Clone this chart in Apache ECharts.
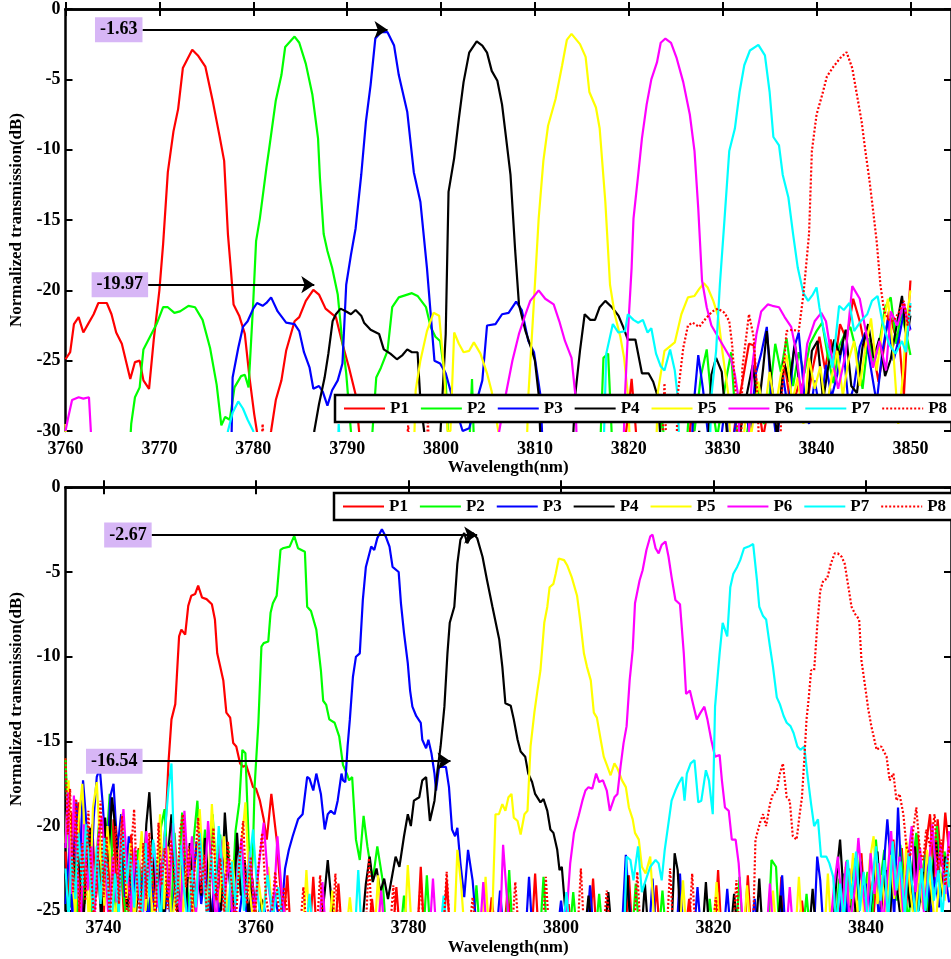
<!DOCTYPE html>
<html>
<head>
<meta charset="utf-8">
<title>Normalized transmission</title>
<script src="https://cdn.jsdelivr.net/npm/echarts@6/dist/echarts.min.js"></script>
<style>
  html, body { margin: 0; padding: 0; background: #fff; }
  #chart { width: 951px; height: 959px; }
</style>
</head>
<body>
<div id="chart"></div>
<script>
// series names, colours and tick labels
const names = ['P1', 'P2', 'P3', 'P4', 'P5', 'P6', 'P7', 'P8']
const colors = ['#ff0000', '#00ff00', '#0000ff', '#000000', '#ffff00', '#ff00ff', '#00ffff', '#ff0000']
const topXTicks = [3760, 3770, 3780, 3790, 3800, 3810, 3820, 3830, 3840, 3850]
const botXTicks = [3740, 3760, 3780, 3800, 3820, 3840]

// upper panel: [wavelength nm, transmission dB]
const topP1 = [[3760,-24.9],[3760.5,-24.4],[3760.9,-22.4],[3761.4,-21.9],[3761.9,-23.0],[3762.4,-22.4],[3763.0,-21.7],[3763.5,-20.9],[3764.4,-20.9],[3764.9,-21.7],[3765.4,-23.0],[3766.0,-23.8],[3766.9,-26.3],[3767.4,-25.1],[3767.9,-25.0],[3768.3,-26.4],[3768.9,-27.0],[3769.4,-23.5],[3770.0,-20.0],[3770.4,-16.7],[3770.9,-11.6],[3771.5,-8.7],[3772.0,-7.1],[3772.5,-4.2],[3773.5,-2.9],[3774.1,-3.3],[3774.9,-4.1],[3775.7,-6.6],[3776.4,-9.0],[3776.9,-10.8],[3777.3,-16.0],[3777.6,-18.4],[3777.9,-21.0],[3778.5,-21.8],[3779.1,-23.1],[3779.6,-26.2],[3780.1,-28.8],[3780.5,-30.5],[3781.2,-33],[3781.9,-30.0],[3782.4,-27.8],[3783.0,-26.4],[3783.5,-24.3],[3784.4,-22.2],[3784.9,-21.9],[3785.6,-20.75],[3786.4,-19.97],[3787.0,-20.3],[3787.7,-21.3],[3788.8,-21.9],[3789.5,-23.8],[3790.2,-25.5],[3790.9,-27.4],[3791.3,-30.2],[3792,-34],[3819,-34],[3819.9,-29],[3820.3,-26.3],[3820.7,-29.5],[3821.2,-34],[3826,-34],[3826.7,-28.5],[3827.2,-33],[3830.5,-34],[3831.4,-29],[3832.1,-26.5],[3832.8,-23.8],[3833.3,-23.9],[3833.7,-27.5],[3834.3,-30.5],[3835.2,-27],[3835.9,-29.5],[3836.6,-25.2],[3837.3,-28.5],[3838.2,-26.5],[3839.0,-28],[3839.6,-25.5],[3840.3,-23.3],[3840.9,-25.6],[3841.5,-23.5],[3842.0,-25.0],[3842.5,-22.4],[3843.2,-23.5],[3843.9,-20.6],[3844.6,-22.2],[3845.3,-24.5],[3845.9,-23.8],[3846.6,-26.5],[3847.2,-24.0],[3847.7,-21.5],[3848.3,-23.0],[3848.8,-23.5],[3849.3,-27.5],[3849.7,-22.5],[3850.0,-19.3]]
const topP2 = [[3766.6,-34],[3767.0,-29.5],[3767.4,-27.6],[3767.9,-26.9],[3768.3,-24.2],[3769.0,-23.3],[3769.7,-22.4],[3770.4,-21.2],[3770.9,-21.2],[3771.6,-21.6],[3772.2,-21.5],[3773.1,-21.1],[3773.8,-21.2],[3774.6,-22.1],[3775.4,-24.1],[3776.1,-26.7],[3776.6,-29.6],[3777.0,-29.0],[3777.5,-29.2],[3778.0,-26.9],[3778.7,-26.1],[3779.1,-26.0],[3779.5,-26.9],[3780.0,-20.8],[3780.3,-16.5],[3780.7,-14.9],[3781.4,-11.3],[3781.7,-9.9],[3782.4,-6.5],[3783.0,-4.7],[3783.4,-2.7],[3784.4,-1.96],[3784.9,-2.4],[3785.6,-3.9],[3786.3,-6.1],[3786.9,-9.2],[3787.1,-12.0],[3787.5,-16.0],[3787.9,-17.2],[3788.4,-18.4],[3789.0,-20.3],[3789.4,-23.1],[3789.9,-25.9],[3790.4,-30.0],[3791,-34],[3792.2,-34],[3792.7,-30.0],[3793.1,-26.2],[3793.6,-25.5],[3794.3,-24.3],[3794.8,-21.2],[3795.5,-20.5],[3796.9,-20.2],[3797.5,-20.4],[3798.4,-21.2],[3798.9,-22.6],[3799.4,-23.3],[3799.9,-23.6],[3800.5,-26.5],[3801.0,-34],[3802.9,-33],[3803.3,-26.3],[3803.6,-33],[3816.8,-34],[3817.3,-24.8],[3817.8,-24.5],[3818.2,-30.5],[3822.8,-34],[3823.5,-29],[3824.2,-33],[3825.9,-34],[3826.5,-27.5],[3827.0,-30],[3827.7,-26],[3828.3,-24.2],[3828.8,-27.8],[3829.4,-30.5],[3830.4,-26.2],[3830.9,-24.4],[3831.4,-29.5],[3832.1,-32],[3833.0,-28.6],[3833.6,-26.5],[3834.4,-29.5],[3835.0,-27.4],[3835.6,-23.8],[3836.2,-25.8],[3836.8,-23.4],[3837.5,-26.8],[3838.1,-24.4],[3838.7,-25.9],[3839.3,-23.8],[3840.0,-22.9],[3840.6,-22.3],[3841.2,-24.7],[3841.8,-26.6],[3842.4,-24.0],[3843.0,-23.1],[3843.6,-22.6],[3844.3,-24.5],[3844.9,-27.0],[3845.5,-23.4],[3846.1,-25.2],[3846.7,-23.7],[3847.3,-21.2],[3847.9,-20.5],[3848.5,-23.8],[3849.0,-21.6],[3849.5,-22.9],[3850.0,-24.6]]
const topP3 = [[3777.5,-34],[3777.7,-30],[3777.8,-26.2],[3778.4,-24.1],[3778.9,-22.6],[3779.4,-22.2],[3780.0,-21.3],[3780.4,-20.9],[3781.0,-21.1],[3781.4,-20.9],[3781.9,-20.5],[3782.6,-21.5],[3783.5,-22.3],[3784.4,-22.4],[3784.9,-22.9],[3785.4,-24.4],[3786.0,-25.5],[3786.4,-27.0],[3787.0,-26.8],[3787.4,-27.2],[3787.9,-28.2],[3788.4,-27.1],[3789.0,-26.4],[3789.5,-25.2],[3789.9,-19.6],[3790.4,-17.5],[3790.9,-15.6],[3791.5,-11.8],[3792.0,-8.0],[3792.5,-5.4],[3793.0,-2.1],[3793.6,-1.65],[3794.3,-1.65],[3795.0,-2.6],[3795.5,-4.7],[3796.4,-7.3],[3797.1,-11.6],[3797.8,-13.7],[3798.5,-18.4],[3799.3,-25.0],[3799.9,-25.2],[3800.5,-25.9],[3801.2,-27.6],[3802.3,-30.0],[3803.0,-29.8],[3804.4,-26.4],[3804.9,-22.5],[3805.8,-22.4],[3806.5,-21.7],[3807.2,-21.6],[3808.0,-20.8],[3808.6,-21.4],[3809.3,-23.6],[3809.9,-24.4],[3810.6,-27.5],[3811.0,-34],[3826.4,-34],[3827.0,-27.5],[3827.4,-24.6],[3827.9,-27.0],[3828.4,-30],[3829.2,-34],[3830.3,-28],[3830.8,-32],[3831.5,-29],[3832.3,-27.5],[3832.9,-30.5],[3833.5,-26.0],[3834.1,-24.5],[3834.7,-22.6],[3835.2,-27.8],[3835.8,-31],[3836.4,-26.0],[3837.0,-28.6],[3837.6,-24.1],[3838.1,-23.0],[3838.7,-27.4],[3839.2,-29.5],[3839.8,-26.4],[3840.4,-28.7],[3841.0,-25.3],[3841.6,-27.6],[3842.2,-26.0],[3842.8,-23.6],[3843.4,-28.1],[3844.0,-26.8],[3844.6,-24.0],[3845.2,-23.0],[3845.8,-25.6],[3846.4,-28.0],[3847.0,-24.4],[3847.6,-22.1],[3848.2,-25.0],[3848.8,-23.3],[3849.4,-21.2],[3850.0,-22.8]]
const topP4 = [[3786.3,-34],[3786.5,-30],[3787.0,-28.1],[3787.6,-26.2],[3788.0,-24.5],[3788.45,-22.2],[3788.8,-21.7],[3789.3,-21.3],[3789.9,-21.5],[3790.4,-21.7],[3790.9,-21.4],[3791.5,-21.8],[3791.8,-22.3],[3792.5,-22.8],[3793.4,-23.1],[3793.9,-24.2],[3794.6,-24.5],[3795.3,-24.9],[3795.9,-24.6],[3796.4,-24.2],[3796.9,-24.4],[3797.5,-24.4],[3797.8,-27.8],[3798.2,-30.0],[3798.8,-34],[3799.6,-34],[3799.95,-30],[3800.5,-23.1],[3800.8,-13.0],[3801.4,-10.6],[3801.9,-7.8],[3802.4,-5.2],[3803.0,-3.1],[3803.8,-2.3],[3804.4,-2.6],[3804.9,-3.1],[3805.4,-4.4],[3806.0,-5.1],[3806.5,-6.8],[3806.9,-9.0],[3807.4,-11.8],[3807.9,-17.2],[3808.3,-21.0],[3809.0,-22.9],[3809.7,-24.3],[3810.0,-25.0],[3810.4,-27.4],[3810.8,-34],[3813.8,-34],[3814.3,-27.4],[3814.8,-24.3],[3815.3,-21.7],[3815.9,-22.1],[3816.4,-22.1],[3816.9,-21.2],[3817.5,-20.75],[3818.2,-21.2],[3818.9,-21.8],[3819.4,-22.6],[3819.9,-23.5],[3820.7,-23.5],[3821.4,-25.9],[3822.1,-25.9],[3822.6,-26.5],[3823.1,-27.6],[3823.5,-32],[3826.5,-34],[3827.5,-30],[3828.2,-34],[3828.8,-26.0],[3829.3,-24.8],[3829.9,-25.8],[3830.5,-30.5],[3831.2,-34],[3832.0,-29.5],[3832.6,-27.3],[3833.2,-25.3],[3833.8,-28.5],[3834.3,-25.6],[3834.7,-22.9],[3835.2,-26.5],[3835.8,-30.5],[3836.5,-25.0],[3837.1,-26.5],[3837.7,-23.8],[3838.3,-27.6],[3838.9,-29.0],[3839.5,-24.3],[3840.1,-23.6],[3840.7,-27.8],[3841.3,-25.2],[3841.9,-23.5],[3842.5,-24.6],[3843.1,-22.8],[3843.7,-26.8],[3844.3,-27.3],[3844.9,-24.0],[3845.5,-22.4],[3846.1,-24.8],[3846.7,-23.4],[3847.3,-26.1],[3847.9,-24.9],[3848.5,-22.6],[3849.1,-20.4],[3849.6,-23.5],[3850.0,-21.8]]
const topP5 = [[3760.0,-29.5],[3760.2,-34],[3797.0,-34],[3797.3,-27.1],[3797.8,-25.0],[3798.5,-22.9],[3799.2,-21.6],[3799.8,-21.8],[3800.3,-25.5],[3800.7,-30],[3801.0,-30],[3801.4,-23.0],[3801.9,-23.8],[3802.4,-24.4],[3803.0,-24.3],[3803.5,-23.7],[3804.2,-24.5],[3804.9,-25.9],[3805.4,-27.2],[3806.1,-30],[3806.5,-34],[3809.0,-34],[3809.3,-27.5],[3809.9,-20.75],[3810.4,-14.9],[3810.9,-10.8],[3811.4,-8.3],[3812.2,-6.4],[3812.9,-4.0],[3813.4,-2.2],[3813.9,-1.77],[3814.8,-2.5],[3815.4,-3.4],[3815.8,-5.9],[3816.5,-7.0],[3816.9,-8.5],[3817.5,-13.7],[3818.0,-19.6],[3818.5,-21.7],[3819.1,-23.3],[3819.5,-24.8],[3819.9,-27.4],[3820.3,-34],[3822.8,-34],[3823.1,-27.2],[3823.8,-24.3],[3824.9,-23.7],[3825.6,-21.7],[3826.3,-20.5],[3827.0,-20.4],[3827.5,-19.9],[3828.0,-19.5],[3828.4,-19.8],[3829.0,-20.75],[3829.5,-21.8],[3830.0,-24.5],[3830.6,-27.4],[3831.0,-34],[3832.0,-32],[3832.6,-28.0],[3833.0,-30.5],[3833.8,-26.5],[3834.4,-29.0],[3835.0,-25.8],[3835.6,-28.5],[3836.2,-26.0],[3836.8,-24.6],[3837.4,-27.9],[3838.0,-26.2],[3838.6,-29.5],[3839.2,-24.8],[3839.8,-27.0],[3840.4,-25.4],[3841.0,-28.6],[3841.6,-26.2],[3842.2,-24.3],[3842.8,-27.5],[3843.4,-25.0],[3844.0,-23.6],[3844.6,-26.8],[3845.2,-24.1],[3845.8,-22.0],[3846.4,-25.7],[3847.0,-22.8],[3847.6,-20.6],[3848.2,-24.6],[3848.7,-29.5],[3849.2,-26.0],[3849.6,-22.0],[3850.0,-20.0]]
const topP6 = [[3760,-30],[3760.3,-29.0],[3760.7,-27.8],[3761.4,-27.6],[3761.9,-27.7],[3762.5,-27.6],[3762.7,-30],[3763,-34],[3805.5,-34],[3806.2,-30],[3806.9,-27.4],[3807.6,-25.0],[3808.3,-23.1],[3809.0,-21.7],[3809.5,-20.75],[3810.4,-20.0],[3811.1,-20.6],[3812.0,-21.0],[3812.6,-22.2],[3813.2,-23.6],[3813.9,-24.8],[3814.3,-27.4],[3814.6,-34],[3819.3,-34],[3819.6,-27.4],[3819.9,-23.1],[3820.3,-18.4],[3820.5,-14.9],[3821.0,-11.8],[3821.4,-9.2],[3821.9,-6.8],[3822.4,-5.0],[3823.0,-3.8],[3823.4,-2.4],[3823.9,-2.1],[3824.5,-2.4],[3825.1,-3.5],[3825.8,-5.2],[3826.5,-7.5],[3827.0,-10.1],[3827.4,-14.2],[3827.8,-19.3],[3828.3,-21.2],[3828.8,-22.5],[3829.5,-23.3],[3830.2,-24.1],[3830.9,-24.9],[3831.3,-26.0],[3831.6,-27.3],[3832.0,-34],[3832.8,-30],[3833.2,-25.1],[3833.6,-23.1],[3834.1,-21.5],[3834.8,-21.0],[3835.3,-21.1],[3836.0,-21.2],[3836.6,-21.9],[3837.3,-22.6],[3837.8,-24.3],[3838.4,-27.5],[3839.0,-23.8],[3839.8,-22.2],[3840.5,-21.6],[3841.0,-22.2],[3841.5,-24.3],[3842.3,-27.0],[3843.1,-24.5],[3843.8,-19.7],[3844.6,-20.6],[3845.3,-23.1],[3846.0,-25.5],[3846.7,-23.6],[3847.4,-25.7],[3847.9,-21.5],[3848.6,-22.5],[3849.3,-20.9],[3849.9,-22.9]]
const topP7 = [[3777.0,-34],[3777.3,-30],[3777.8,-28.7],[3778.4,-27.9],[3778.9,-28.4],[3779.4,-29.2],[3780.0,-30],[3780.3,-34],[3788.9,-34],[3789.1,-29.5],[3789.5,-34],[3817.2,-34],[3817.6,-24.5],[3818.3,-22.4],[3818.9,-23.0],[3819.6,-22.9],[3819.9,-21.7],[3820.5,-22.1],[3821.0,-22.3],[3821.5,-22.1],[3822.0,-23.0],[3822.4,-22.7],[3822.9,-24.5],[3823.4,-25.4],[3823.8,-25.7],[3824.4,-24.2],[3824.9,-25.7],[3825.2,-27.5],[3825.5,-34],[3828.5,-34],[3828.8,-27.5],[3829.3,-24.3],[3829.7,-19.6],[3830.2,-14.9],[3830.7,-10.1],[3831.3,-8.5],[3831.8,-5.9],[3832.3,-4.0],[3832.9,-2.95],[3833.8,-2.55],[3834.5,-3.3],[3835.0,-5.9],[3835.4,-9.1],[3836.0,-9.7],[3836.4,-11.8],[3837.0,-13.4],[3837.5,-16.0],[3838.0,-18.4],[3838.6,-20.2],[3839.1,-20.75],[3839.6,-20.3],[3840.0,-19.8],[3840.3,-21.2],[3840.7,-22.6],[3841.2,-24.1],[3841.7,-25.5],[3842.4,-21.1],[3842.9,-21.4],[3843.5,-20.9],[3844.0,-22.9],[3844.7,-22.2],[3845.4,-21.7],[3845.9,-20.75],[3846.5,-20.4],[3847.0,-22.2],[3847.7,-23.8],[3848.4,-24.5],[3849.1,-23.6],[3849.5,-24.4],[3850.0,-20.9]]
const topP8 = [[3780.6,-34],[3781.0,-29.5],[3781.4,-34],[3796.0,-34],[3796.5,-29.6],[3797.0,-34],[3798.3,-34],[3798.6,-29.4],[3799.0,-34],[3823.4,-34],[3823.8,-26.6],[3824.1,-34],[3825.0,-34],[3825.2,-27.5],[3825.8,-24.1],[3826.3,-22.5],[3826.8,-22.3],[3827.5,-22.6],[3828.2,-22.0],[3828.9,-21.5],[3829.5,-21.3],[3830.2,-21.6],[3830.7,-22.2],[3831.0,-23.8],[3831.4,-27.5],[3831.7,-34],[3832.0,-30],[3832.1,-25.5],[3832.8,-21.7],[3833.3,-23.3],[3833.7,-27.5],[3834.0,-34],[3836.0,-34],[3836.3,-27.4],[3836.8,-22.9],[3837.4,-22.8],[3838.1,-22.9],[3838.6,-20.3],[3839.2,-16.0],[3839.5,-10.1],[3840.0,-7.5],[3840.6,-6.1],[3841.1,-4.8],[3841.8,-4.1],[3842.5,-3.5],[3843.2,-3.07],[3843.8,-4.2],[3844.3,-6.1],[3844.8,-8.0],[3845.2,-10.1],[3845.6,-12.0],[3846.0,-14.2],[3846.4,-16.5],[3846.8,-19.6],[3847.2,-21.5],[3847.7,-22.1],[3848.2,-22.2],[3848.8,-21.5],[3849.3,-20.75],[3849.7,-22.5],[3850.0,-21.0]]

// lower panel: [wavelength nm, transmission dB]
const botP1 = [[3735.0,-21.5],[3735.4,-24.6],[3735.8,-19.2],[3736.3,-22.8],[3736.7,-18.6],[3737.2,-25.8],[3737.6,-21.0],[3738.1,-23.5],[3738.5,-19.9],[3739.0,-24.2],[3739.5,-22.0],[3740.0,-25.6],[3740.4,-20.8],[3740.9,-23.9],[3741.3,-19.6],[3741.8,-24.8],[3742.2,-21.7],[3742.7,-25.5],[3743.2,-22.4],[3743.6,-20.5],[3744.1,-24.0],[3744.6,-21.3],[3745.0,-25.7],[3745.5,-22.9],[3746.0,-20.9],[3746.4,-24.5],[3746.9,-22.0],[3747.4,-25.4],[3747.8,-21.8],[3748.2,-19.3],[3748.5,-16.3],[3748.9,-13.7],[3749.4,-12.8],[3749.6,-11.2],[3749.9,-8.8],[3750.2,-8.4],[3750.7,-8.7],[3751.1,-7.0],[3751.5,-6.4],[3752.0,-6.3],[3752.4,-5.8],[3752.9,-6.5],[3753.5,-6.6],[3754.2,-6.9],[3754.6,-7.8],[3754.9,-9.8],[3755.3,-10.6],[3755.7,-11.4],[3756.1,-13.3],[3756.6,-13.6],[3757.0,-15.1],[3757.4,-15.3],[3757.9,-16.3],[3758.3,-16.5],[3758.7,-16.4],[3759.2,-17.1],[3759.6,-17.7],[3760.0,-17.8],[3760.5,-18.5],[3761.0,-19.6],[3761.4,-20.8],[3762.0,-18.1],[3762.7,-20.8],[3763.1,-23.2],[3763.6,-25.6],[3764.1,-22.9],[3764.5,-26],[3767.1,-26],[3767.5,-23.0],[3767.9,-26],[3770.4,-26],[3770.8,-23.4],[3771.2,-26],[3774.8,-26],[3775.2,-24.3],[3775.6,-26],[3778.0,-26],[3778.4,-23.6],[3778.8,-26],[3781.2,-26],[3781.6,-22.4],[3782.0,-26],[3784.6,-26],[3785.0,-23.2],[3785.4,-26],[3790.5,-26],[3790.9,-24.2],[3791.3,-26],[3792.6,-26],[3793.0,-23.7],[3793.4,-26],[3796.2,-26],[3796.6,-22.8],[3797.0,-26],[3800.6,-26],[3801.0,-24.6],[3801.3,-26],[3803.8,-26],[3804.2,-23.1],[3804.6,-26],[3808.5,-26],[3808.9,-22.9],[3809.3,-26],[3812.1,-26],[3812.5,-23.5],[3812.9,-26],[3816.4,-26],[3816.8,-24.3],[3817.2,-26],[3820.2,-26],[3820.6,-22.6],[3821.0,-26],[3824.1,-26],[3824.5,-22.9],[3824.9,-26],[3828.5,-26],[3828.9,-23.0],[3829.3,-26],[3831.2,-26],[3831.6,-24.4],[3832.0,-26],[3836.4,-26],[3836.8,-23.8],[3837.3,-25.6],[3837.8,-22.5],[3838.3,-26],[3838.9,-24.1],[3839.4,-21.6],[3839.9,-25.3],[3840.4,-23.0],[3840.9,-26],[3841.5,-21.9],[3842.0,-24.7],[3842.5,-22.4],[3843.1,-25.8],[3843.6,-20.8],[3844.1,-23.9],[3844.7,-21.3],[3845.2,-25.2],[3845.7,-22.1],[3846.3,-24.6],[3846.8,-20.5],[3847.3,-23.5],[3847.9,-21.0],[3848.4,-19.3],[3848.9,-23.2],[3849.4,-19.6],[3849.9,-22.4],[3850.4,-19.2],[3850.9,-21.6]]
const botP2 = [[3735.0,-16.0],[3735.3,-19.5],[3735.7,-24.8],[3736.2,-20.3],[3736.6,-26],[3737.1,-22.1],[3737.5,-24.6],[3738.0,-21.4],[3738.5,-25.8],[3738.9,-23.0],[3739.4,-19.8],[3739.9,-24.3],[3740.3,-21.7],[3740.8,-18.1],[3741.2,-22.9],[3741.7,-25.3],[3742.2,-20.9],[3742.6,-24.0],[3743.1,-26],[3743.6,-22.6],[3744.1,-25.1],[3744.5,-21.4],[3745.0,-24.7],[3745.5,-23.3],[3746.0,-25.5],[3746.5,-22.0],[3747.0,-24.6],[3747.5,-20.1],[3748.0,-19.0],[3748.4,-22.6],[3748.9,-25.2],[3749.3,-20.4],[3749.8,-23.6],[3750.3,-19.2],[3750.8,-22.8],[3751.3,-25.1],[3751.8,-20.9],[3752.3,-18.5],[3752.8,-22.6],[3753.3,-20.2],[3753.8,-24.5],[3754.3,-19.3],[3754.8,-23.0],[3755.3,-20.5],[3755.8,-24.2],[3756.3,-21.0],[3756.8,-25.0],[3757.3,-20.3],[3757.8,-18.6],[3758.2,-15.5],[3758.6,-15.7],[3759.0,-20.6],[3759.3,-24.2],[3759.6,-21.2],[3759.8,-17.7],[3760.3,-13.9],[3760.7,-9.4],[3761.0,-9.2],[3761.6,-9.1],[3761.9,-7.4],[3762.2,-6.85],[3762.7,-6.4],[3763.2,-3.7],[3763.5,-3.6],[3764.4,-3.5],[3765.0,-2.87],[3765.5,-3.6],[3766.4,-3.8],[3766.7,-7.05],[3767.2,-7.3],[3767.9,-8.4],[3768.5,-10.8],[3768.8,-12.6],[3769.2,-12.85],[3769.6,-13.7],[3770.3,-13.9],[3770.9,-14.7],[3771.4,-16.4],[3771.9,-16.9],[3772.2,-17.3],[3772.6,-17.1],[3773.1,-20.8],[3773.6,-22.0],[3774.1,-19.4],[3774.6,-21.2],[3775.3,-23.2],[3775.9,-21.2],[3776.6,-23.2],[3777.0,-26],[3779.0,-26],[3779.4,-24.1],[3779.8,-26],[3782.0,-26],[3782.4,-22.9],[3782.8,-26],[3788.5,-26],[3788.9,-23.5],[3789.3,-26],[3792.8,-26],[3793.2,-22.6],[3793.6,-26],[3797.3,-26],[3797.7,-23.0],[3798.1,-26],[3801.2,-26],[3801.6,-23.9],[3802.0,-26],[3804.6,-26],[3805.0,-24.0],[3805.4,-26],[3809.4,-26],[3809.8,-23.4],[3810.2,-26],[3812.9,-26],[3813.3,-23.8],[3813.7,-26],[3819.1,-26],[3819.5,-24.3],[3819.9,-26],[3823.0,-26],[3823.4,-23.0],[3823.8,-26],[3827.2,-26],[3827.6,-22.0],[3828.2,-22.4],[3828.6,-26],[3831.8,-26],[3832.2,-24.0],[3832.6,-26],[3836.0,-26],[3836.5,-23.1],[3837.0,-25.4],[3837.5,-22.0],[3838.1,-24.6],[3838.6,-26],[3839.2,-21.8],[3839.7,-24.2],[3840.2,-22.7],[3840.8,-25.5],[3841.3,-20.8],[3841.8,-23.6],[3842.4,-21.4],[3842.9,-25.1],[3843.4,-22.2],[3844.0,-24.4],[3844.5,-21.1],[3845.0,-23.7],[3845.6,-25.6],[3846.1,-22.3],[3846.6,-20.4],[3847.2,-24.0],[3847.7,-21.7],[3848.2,-25.2],[3848.8,-22.1],[3849.3,-20.0],[3849.8,-24.1],[3850.3,-21.5],[3850.9,-23.0]]
const botP3 = [[3735.0,-24.6],[3735.5,-21.3],[3735.9,-25.5],[3736.4,-18.6],[3736.9,-22.4],[3737.3,-17.3],[3737.8,-20.2],[3738.3,-23.9],[3738.7,-19.5],[3739.1,-17.1],[3739.5,-16.6],[3739.9,-18.8],[3740.4,-22.5],[3740.9,-18.2],[3741.3,-17.5],[3741.8,-21.4],[3742.3,-19.3],[3742.8,-24.2],[3743.3,-20.6],[3743.8,-25.8],[3744.3,-22.1],[3744.8,-24.7],[3745.3,-21.5],[3745.8,-26],[3746.3,-23.4],[3746.8,-25.3],[3747.3,-22.2],[3747.8,-26],[3748.4,-23.8],[3748.9,-26],[3749.5,-22.7],[3750.0,-24.9],[3750.6,-21.9],[3751.1,-26],[3751.7,-23.5],[3752.2,-20.9],[3752.8,-24.6],[3753.4,-22.3],[3754.0,-26],[3754.6,-23.0],[3755.2,-25.5],[3755.8,-22.8],[3756.4,-26],[3757.0,-24.2],[3757.6,-26],[3758.3,-23.5],[3759.0,-26],[3759.6,-24.0],[3760.3,-26],[3760.9,-24.4],[3761.5,-26],[3762.4,-23.9],[3763.2,-26],[3763.8,-22.5],[3764.3,-21.4],[3764.8,-20.6],[3765.5,-19.6],[3766.1,-19.3],[3766.7,-17.1],[3767.0,-17.2],[3767.5,-17.9],[3767.9,-16.9],[3768.5,-18.1],[3769.0,-20.2],[3769.4,-19.3],[3769.8,-19.1],[3770.3,-19.3],[3770.7,-18.5],[3771.2,-16.9],[3771.4,-17.3],[3771.7,-17.4],[3772.0,-15.3],[3772.3,-13.7],[3772.7,-11.2],[3773.1,-10.0],[3773.6,-9.8],[3774.0,-6.65],[3774.4,-4.7],[3775.1,-3.5],[3775.5,-3.7],[3775.9,-3.0],[3776.5,-2.48],[3777.0,-2.9],[3777.5,-3.5],[3777.9,-4.7],[3778.7,-5.0],[3779.0,-6.85],[3779.4,-8.6],[3779.9,-10.4],[3780.2,-12.0],[3780.5,-12.95],[3781.0,-13.5],[3781.6,-13.9],[3781.8,-14.9],[3782.3,-15.4],[3782.6,-14.9],[3783.0,-15.7],[3783.4,-16.9],[3783.6,-17.9],[3784.0,-16.5],[3784.9,-16.5],[3785.3,-17.7],[3785.7,-20.2],[3786.1,-20.6],[3786.4,-20.1],[3786.8,-22.2],[3787.3,-24.2],[3787.8,-21.4],[3788.4,-23.2],[3788.9,-26],[3791.6,-26],[3792.0,-23.8],[3792.4,-26],[3795.4,-26],[3795.8,-23.0],[3796.2,-26],[3799.6,-26],[3800.0,-24.4],[3800.4,-26],[3803.4,-26],[3803.8,-23.5],[3804.2,-26],[3808.0,-26],[3808.5,-21.7],[3808.9,-24.4],[3809.3,-26],[3811.6,-26],[3812.0,-23.1],[3812.4,-26],[3815.2,-26],[3815.6,-22.8],[3816.0,-26],[3817.5,-26],[3817.9,-23.6],[3818.3,-26],[3821.4,-26],[3821.8,-23.7],[3822.2,-26],[3825.0,-26],[3825.4,-24.3],[3825.8,-26],[3828.6,-26],[3829.0,-22.9],[3829.4,-26],[3833.2,-26],[3833.6,-21.8],[3834.0,-23.2],[3834.4,-26],[3836.5,-26],[3837.0,-22.8],[3837.5,-25.2],[3838.0,-23.6],[3838.5,-21.9],[3839.0,-25.0],[3839.6,-26],[3840.1,-23.4],[3840.6,-24.9],[3841.2,-22.0],[3841.7,-25.7],[3842.2,-23.1],[3842.8,-19.6],[3843.2,-21.9],[3843.7,-25.4],[3844.2,-18.9],[3844.6,-22.6],[3845.1,-24.0],[3845.7,-21.5],[3846.2,-25.2],[3846.8,-22.8],[3847.3,-24.5],[3847.9,-21.7],[3848.5,-25.6],[3849.0,-23.0],[3849.6,-24.8],[3850.2,-22.3],[3850.9,-24.5]]
const botP4 = [[3735.0,-22.8],[3735.4,-25.5],[3735.9,-20.6],[3736.3,-24.2],[3736.8,-21.8],[3737.3,-26],[3737.7,-23.0],[3738.2,-20.1],[3738.7,-24.7],[3739.2,-21.5],[3739.7,-25.8],[3740.2,-19.5],[3740.6,-22.1],[3741.1,-18.3],[3741.6,-20.4],[3742.1,-23.6],[3742.6,-21.0],[3743.1,-24.8],[3743.6,-22.3],[3744.1,-26],[3744.6,-23.2],[3745.1,-24.6],[3745.6,-19.9],[3746.0,-18.0],[3746.4,-21.2],[3746.9,-24.4],[3747.4,-22.7],[3747.9,-25.6],[3748.4,-21.9],[3748.9,-19.3],[3749.3,-23.1],[3749.8,-25.9],[3750.3,-22.3],[3750.8,-24.8],[3751.3,-21.0],[3751.8,-25.3],[3752.3,-22.9],[3752.8,-24.1],[3753.3,-20.7],[3753.8,-23.5],[3754.3,-26],[3754.9,-21.6],[3755.4,-25.0],[3755.9,-19.2],[3756.4,-22.5],[3757.0,-25.7],[3757.5,-20.4],[3758.0,-24.1],[3758.5,-22.0],[3759.0,-25.4],[3759.5,-23.1],[3760.1,-26],[3760.7,-24.3],[3761.4,-26],[3762.2,-24.9],[3763.0,-26],[3768.5,-26],[3769.0,-23.9],[3769.4,-22.0],[3769.9,-24.5],[3770.3,-26],[3773.9,-26],[3774.4,-23.4],[3774.9,-21.8],[3775.3,-23.3],[3775.8,-22.5],[3776.3,-23.9],[3776.8,-23.1],[3777.3,-24.3],[3777.9,-22.8],[3778.3,-21.8],[3778.8,-22.4],[3779.4,-20.6],[3779.9,-19.3],[3780.3,-20.0],[3780.7,-18.5],[3781.4,-18.3],[3781.8,-17.3],[3782.3,-17.1],[3782.8,-19.7],[3783.4,-18.5],[3783.8,-16.7],[3784.2,-15.3],[3784.7,-12.95],[3785.1,-9.8],[3785.4,-8.0],[3786.0,-7.05],[3786.4,-4.5],[3786.8,-3.1],[3787.3,-2.7],[3787.7,-3.3],[3788.4,-2.7],[3789.0,-3.0],[3789.7,-4.1],[3790.3,-5.5],[3791.0,-7.05],[3791.9,-9.0],[3792.3,-10.6],[3792.7,-12.75],[3793.4,-12.9],[3793.8,-13.7],[3794.3,-14.9],[3794.7,-15.6],[3795.3,-15.9],[3795.7,-16.9],[3796.2,-17.4],[3796.6,-18.1],[3797.3,-18.6],[3797.7,-18.4],[3798.2,-19.1],[3798.6,-20.2],[3799.0,-20.4],[3799.5,-21.4],[3799.8,-22.6],[3800.1,-22.4],[3800.6,-25.2],[3801.0,-26],[3803.2,-26],[3803.6,-24.1],[3804.0,-26],[3805.8,-26],[3806.2,-23.9],[3806.6,-26],[3808.3,-26],[3808.7,-22.9],[3809.1,-26],[3810.6,-26],[3811.0,-23.4],[3811.4,-26],[3814.5,-26],[3814.9,-21.6],[3815.3,-22.6],[3815.7,-26],[3818.6,-26],[3819.0,-23.3],[3819.4,-26],[3822.3,-26],[3822.7,-24.0],[3823.1,-26],[3825.6,-26],[3826.0,-23.1],[3826.4,-26],[3828.4,-26],[3828.8,-24.1],[3829.2,-26],[3832.6,-26],[3833.0,-23.7],[3833.4,-26],[3835.7,-26],[3836.2,-22.6],[3836.6,-20.8],[3837.1,-24.3],[3837.6,-26],[3838.2,-23.0],[3838.7,-25.4],[3839.3,-22.1],[3839.8,-24.6],[3840.4,-26],[3840.9,-23.3],[3841.5,-21.5],[3842.0,-24.9],[3842.6,-22.6],[3843.1,-25.8],[3843.6,-22.0],[3844.2,-24.2],[3844.7,-26],[3845.3,-22.9],[3845.8,-24.8],[3846.4,-21.2],[3846.9,-25.0],[3847.5,-22.7],[3848.0,-26],[3848.6,-23.5],[3849.2,-20.9],[3849.8,-24.2],[3850.4,-21.8],[3850.9,-23.6]]
const botP5 = [[3735.0,-21.0],[3735.4,-17.3],[3735.8,-22.9],[3736.3,-25.2],[3736.7,-19.8],[3737.2,-17.5],[3737.7,-22.4],[3738.1,-26],[3738.6,-18.9],[3739.1,-17.4],[3739.6,-21.6],[3740.1,-24.7],[3740.5,-20.0],[3741.0,-23.1],[3741.5,-26],[3742.0,-22.2],[3742.5,-19.2],[3743.0,-24.3],[3743.5,-21.0],[3744.0,-26],[3744.5,-22.8],[3745.0,-20.3],[3745.5,-25.0],[3746.0,-22.5],[3746.5,-26],[3747.0,-23.4],[3747.4,-19.3],[3747.9,-24.9],[3748.4,-21.2],[3748.9,-26],[3749.4,-24.0],[3749.9,-22.0],[3750.4,-25.4],[3751.0,-21.3],[3751.5,-23.8],[3752.0,-26],[3752.6,-19.0],[3753.1,-22.7],[3753.6,-25.2],[3754.2,-18.7],[3754.7,-22.4],[3755.2,-24.5],[3755.8,-20.6],[3756.3,-26],[3756.9,-22.0],[3757.4,-24.4],[3758.0,-21.5],[3758.6,-18.6],[3759.1,-23.6],[3759.7,-26],[3760.3,-23.2],[3760.9,-25.2],[3761.6,-22.4],[3762.3,-26],[3766.2,-26],[3766.6,-22.6],[3767.0,-26],[3769.6,-26],[3770.0,-23.8],[3770.4,-26],[3771.9,-26],[3772.3,-24.2],[3772.7,-26],[3775.6,-26],[3776.0,-22.9],[3776.4,-26],[3779.5,-26],[3779.9,-22.3],[3780.4,-26],[3786.0,-26],[3786.4,-21.4],[3786.9,-23.5],[3787.3,-26],[3789.7,-26],[3790.1,-23.0],[3790.5,-26],[3791.0,-25.0],[3791.4,-19.3],[3791.85,-19.3],[3792.3,-18.7],[3792.7,-19.1],[3793.1,-18.3],[3793.5,-18.1],[3793.8,-19.5],[3794.3,-19.7],[3794.7,-20.5],[3795.2,-19.3],[3795.6,-19.1],[3796.0,-15.3],[3796.5,-13.3],[3796.9,-12.0],[3797.3,-10.8],[3797.8,-8.0],[3798.2,-7.05],[3798.5,-5.9],[3799.0,-5.7],[3799.3,-5.1],[3799.7,-4.2],[3800.4,-4.3],[3800.8,-4.6],[3801.4,-5.3],[3802.1,-6.4],[3802.5,-7.8],[3803.0,-9.8],[3803.4,-10.6],[3803.9,-11.4],[3804.3,-13.3],[3804.7,-13.6],[3805.2,-14.9],[3805.6,-15.9],[3806.1,-16.5],[3806.5,-17.0],[3807.0,-16.3],[3807.4,-16.6],[3808.0,-17.3],[3808.5,-17.7],[3808.9,-18.9],[3809.4,-19.6],[3809.7,-20.4],[3810.2,-20.8],[3810.6,-22.4],[3811.1,-22.8],[3811.7,-21.8],[3812.2,-25.4],[3812.6,-26],[3815.6,-26],[3816.0,-23.2],[3816.4,-26],[3820.0,-26],[3820.4,-23.3],[3820.8,-26],[3824.0,-26],[3824.4,-23.5],[3824.8,-26],[3827.4,-26],[3827.8,-23.8],[3828.2,-26],[3830.8,-26],[3831.2,-23.0],[3831.6,-26],[3834.6,-26],[3835.0,-22.8],[3835.4,-26],[3836.8,-26],[3837.3,-22.4],[3837.8,-24.7],[3838.3,-21.6],[3838.9,-25.1],[3839.4,-23.2],[3839.9,-26],[3840.5,-22.0],[3841.0,-20.6],[3841.5,-24.6],[3842.1,-22.9],[3842.6,-26],[3843.2,-21.7],[3843.7,-24.3],[3844.2,-22.3],[3844.8,-25.5],[3845.3,-20.9],[3845.8,-23.8],[3846.4,-26],[3846.9,-22.6],[3847.5,-24.9],[3848.0,-21.4],[3848.6,-23.9],[3849.1,-26],[3849.7,-22.8],[3850.3,-24.4],[3850.9,-22.1]]
const botP6 = [[3735.0,-21.3],[3735.3,-18.0],[3735.7,-24.0],[3736.1,-18.2],[3736.5,-22.2],[3737.0,-26],[3737.4,-19.9],[3737.9,-23.8],[3738.4,-21.2],[3738.8,-25.4],[3739.3,-20.7],[3739.8,-19.4],[3740.3,-23.0],[3740.7,-25.9],[3741.2,-21.8],[3741.7,-24.5],[3742.1,-22.0],[3742.6,-19.0],[3743.1,-22.6],[3743.6,-25.1],[3744.1,-21.3],[3744.6,-23.7],[3745.1,-26],[3745.6,-20.3],[3746.1,-23.2],[3746.6,-21.0],[3747.1,-24.8],[3747.6,-22.4],[3748.1,-20.6],[3748.6,-24.2],[3749.1,-19.8],[3749.6,-22.9],[3750.1,-25.6],[3750.6,-19.1],[3751.1,-23.0],[3751.6,-20.6],[3752.1,-25.3],[3752.7,-21.6],[3753.2,-24.0],[3753.7,-19.7],[3754.3,-23.3],[3754.8,-26],[3755.3,-20.8],[3755.9,-24.1],[3756.4,-21.9],[3757.0,-26],[3757.5,-23.0],[3758.1,-20.7],[3758.6,-24.5],[3759.2,-21.5],[3759.8,-25.0],[3760.4,-22.2],[3761.0,-19.8],[3761.6,-23.4],[3762.2,-25.6],[3762.8,-20.6],[3763.4,-24.1],[3764.0,-26],[3768.3,-26],[3768.7,-23.3],[3769.1,-26],[3776.0,-26],[3776.4,-23.8],[3776.8,-26],[3782.8,-26],[3783.2,-23.1],[3783.6,-26],[3789.4,-26],[3789.8,-23.3],[3790.2,-26],[3792.0,-26],[3792.4,-21.1],[3792.8,-23.6],[3793.2,-26],[3800.6,-26],[3801.2,-22.2],[3801.7,-20.4],[3802.3,-19.4],[3802.8,-18.5],[3803.2,-17.9],[3803.6,-17.7],[3804.1,-17.8],[3804.6,-16.9],[3805.0,-17.4],[3805.5,-17.3],[3806.0,-17.9],[3806.4,-19.1],[3807.0,-18.3],[3807.4,-18.1],[3807.8,-16.5],[3808.2,-15.1],[3808.6,-14.1],[3809.0,-11.4],[3809.4,-9.6],[3809.7,-6.85],[3810.3,-5.5],[3810.7,-4.9],[3811.2,-3.7],[3811.7,-2.9],[3812.0,-2.8],[3812.4,-3.6],[3812.8,-3.9],[3813.2,-3.4],[3813.7,-3.2],[3814.1,-4.1],[3814.5,-5.3],[3815.0,-6.65],[3815.6,-6.9],[3816.1,-9.8],[3816.4,-12.2],[3816.9,-12.0],[3817.4,-12.95],[3817.8,-13.7],[3818.3,-13.3],[3818.8,-12.95],[3819.2,-13.7],[3819.7,-14.9],[3820.2,-15.9],[3820.8,-15.8],[3821.1,-17.3],[3821.5,-18.9],[3822.0,-19.1],[3822.4,-20.8],[3822.9,-20.8],[3823.3,-22.2],[3823.8,-25.6],[3824.2,-26],[3827.0,-26],[3827.4,-23.4],[3827.8,-26],[3829.6,-26],[3830.0,-23.6],[3830.4,-26],[3835.3,-26],[3835.8,-23.6],[3836.3,-21.8],[3836.9,-24.9],[3837.4,-22.1],[3837.9,-26],[3838.5,-23.8],[3839.0,-20.7],[3839.5,-23.4],[3840.1,-25.6],[3840.6,-21.6],[3841.1,-24.0],[3841.7,-22.2],[3842.2,-26],[3842.8,-23.0],[3843.3,-20.3],[3843.8,-24.1],[3844.4,-21.8],[3844.9,-25.3],[3845.4,-22.4],[3846.0,-20.0],[3846.5,-23.9],[3847.1,-21.3],[3847.6,-25.1],[3848.2,-22.6],[3848.7,-19.9],[3849.3,-23.3],[3849.8,-21.1],[3850.4,-24.0],[3850.9,-20.3]]
const botP7 = [[3735.0,-22.5],[3735.4,-25.4],[3735.8,-21.8],[3736.3,-24.3],[3736.7,-20.4],[3737.2,-23.5],[3737.7,-19.9],[3738.2,-22.9],[3738.6,-25.0],[3739.1,-21.2],[3739.6,-24.6],[3740.1,-20.7],[3740.6,-23.7],[3741.0,-26],[3741.5,-22.8],[3742.0,-25.2],[3742.5,-20.3],[3743.0,-23.4],[3743.5,-21.6],[3744.0,-24.8],[3744.5,-22.0],[3745.0,-25.5],[3745.5,-21.0],[3746.0,-24.2],[3746.5,-20.8],[3747.0,-22.9],[3747.5,-25.8],[3748.0,-20.6],[3748.5,-17.8],[3748.9,-16.3],[3749.2,-20.9],[3749.6,-24.6],[3750.1,-21.1],[3750.6,-23.9],[3751.1,-26],[3751.6,-22.6],[3752.1,-24.8],[3752.6,-20.4],[3753.1,-23.1],[3753.6,-25.5],[3754.1,-21.7],[3754.6,-24.0],[3755.1,-20.0],[3755.7,-23.4],[3756.2,-26],[3756.8,-22.1],[3757.3,-24.7],[3757.9,-21.4],[3758.4,-25.0],[3759.0,-22.7],[3759.6,-20.2],[3760.2,-24.1],[3760.8,-26],[3761.5,-22.9],[3762.2,-25.3],[3762.9,-23.6],[3763.6,-26],[3766.6,-26],[3767.0,-24.0],[3767.4,-26],[3773.0,-26],[3773.4,-22.6],[3773.8,-26],[3784.2,-26],[3784.6,-24.1],[3785.0,-26],[3800.3,-26],[3800.7,-23.9],[3801.1,-26],[3808.3,-26],[3808.6,-21.8],[3809.1,-22.0],[3809.5,-23.2],[3810.1,-21.2],[3810.6,-23.9],[3811.1,-23.2],[3811.7,-22.4],[3812.4,-22.0],[3812.8,-22.2],[3813.2,-23.2],[3813.6,-21.4],[3814.1,-19.8],[3814.5,-18.5],[3815.0,-17.9],[3815.4,-17.5],[3815.9,-17.1],[3816.2,-18.5],[3816.5,-16.9],[3817.0,-16.3],[3817.5,-16.1],[3818.0,-18.6],[3818.4,-18.5],[3819.0,-16.7],[3819.4,-17.3],[3819.9,-19.3],[3820.2,-12.95],[3820.8,-9.8],[3821.2,-8.0],[3821.5,-8.4],[3821.8,-8.8],[3822.2,-5.9],[3822.6,-5.1],[3823.1,-4.7],[3823.5,-4.3],[3824.0,-3.6],[3824.6,-3.5],[3825.2,-3.35],[3825.7,-5.5],[3826.0,-7.05],[3826.5,-7.6],[3826.9,-7.8],[3827.4,-9.4],[3827.8,-10.6],[3828.3,-12.4],[3828.7,-12.8],[3829.2,-13.5],[3829.6,-13.9],[3830.1,-14.1],[3830.5,-14.5],[3831.0,-15.3],[3831.4,-15.5],[3831.9,-15.3],[3832.3,-16.9],[3832.8,-18.7],[3833.2,-20.0],[3833.7,-19.6],[3834.1,-21.8],[3834.8,-21.8],[3835.2,-22.2],[3835.7,-23.0],[3836.1,-26],[3836.6,-23.4],[3837.1,-25.6],[3837.6,-22.0],[3838.1,-24.3],[3838.7,-21.5],[3839.2,-25.0],[3839.7,-22.7],[3840.3,-26],[3840.8,-23.6],[3841.3,-21.2],[3841.9,-24.4],[3842.4,-22.0],[3842.9,-25.7],[3843.5,-20.9],[3844.0,-23.8],[3844.5,-22.1],[3845.1,-25.2],[3845.6,-21.6],[3846.2,-24.0],[3846.7,-26],[3847.3,-22.5],[3847.8,-25.0],[3848.4,-21.8],[3848.9,-24.4],[3849.5,-22.6],[3850.0,-25.4],[3850.6,-21.9],[3850.9,-23.6]]
const botP8 = [[3735.0,-16.0],[3735.3,-20.5],[3735.6,-17.8],[3736.0,-23.9],[3736.4,-18.4],[3736.8,-25.2],[3737.2,-21.0],[3737.6,-24.4],[3738.0,-19.1],[3738.4,-23.0],[3738.8,-26],[3739.2,-22.1],[3739.6,-18.5],[3740.0,-24.2],[3740.4,-20.6],[3740.8,-25.7],[3741.2,-22.7],[3741.6,-20.0],[3742.0,-24.6],[3742.4,-19.4],[3742.8,-23.2],[3743.2,-26],[3743.6,-21.5],[3744.0,-19.0],[3744.4,-23.7],[3744.8,-25.4],[3745.2,-21.0],[3745.6,-24.3],[3746.0,-20.4],[3746.4,-22.8],[3746.8,-26],[3747.2,-19.8],[3747.6,-23.5],[3748.0,-21.3],[3748.4,-24.9],[3748.8,-20.8],[3749.2,-22.5],[3749.6,-25.6],[3750.0,-20.3],[3750.4,-19.3],[3750.8,-23.6],[3751.2,-21.2],[3751.6,-25.1],[3752.0,-22.0],[3752.4,-19.5],[3752.8,-24.0],[3753.2,-21.7],[3753.6,-26],[3754.0,-22.9],[3754.4,-20.1],[3754.8,-24.4],[3755.3,-21.9],[3755.8,-25.3],[3756.3,-20.9],[3756.8,-23.5],[3757.3,-26],[3757.8,-22.2],[3758.3,-19.7],[3758.8,-24.6],[3759.3,-21.8],[3759.8,-25.7],[3760.3,-22.4],[3760.8,-20.4],[3761.3,-24.2],[3761.9,-26],[3762.5,-22.7],[3763.1,-25.5],[3763.7,-23.6],[3764.3,-26],[3765.8,-26],[3766.2,-23.6],[3766.6,-26],[3768.0,-26],[3768.4,-22.9],[3768.8,-26],[3770.0,-26],[3770.4,-22.8],[3770.8,-26],[3774.4,-26],[3774.8,-21.9],[3775.2,-26],[3777.6,-26],[3778.0,-23.5],[3778.4,-26],[3781.2,-26],[3781.6,-23.2],[3782.0,-26],[3784.6,-26],[3785.0,-22.7],[3785.4,-26],[3788.0,-26],[3788.4,-24.2],[3788.8,-26],[3793.6,-26],[3794.0,-23.3],[3794.4,-26],[3797.6,-26],[3798.0,-23.0],[3798.4,-26],[3802.2,-26],[3802.6,-22.5],[3803.0,-26],[3805.6,-26],[3806.0,-23.8],[3806.4,-26],[3809.6,-26],[3810.0,-22.7],[3810.4,-26],[3813.9,-26],[3814.3,-22.5],[3814.7,-26],[3816.8,-26],[3817.2,-22.8],[3817.6,-26],[3819.9,-26],[3820.3,-24.2],[3820.7,-26],[3822.6,-26],[3823.0,-23.2],[3823.4,-26],[3825.2,-26],[3825.5,-20.8],[3826.1,-19.8],[3826.5,-19.3],[3826.9,-20.0],[3827.4,-18.7],[3827.8,-18.1],[3828.3,-17.9],[3828.7,-16.9],[3829.1,-16.3],[3829.6,-18.3],[3830.0,-18.5],[3830.4,-20.6],[3830.9,-20.8],[3831.3,-19.3],[3831.6,-18.3],[3831.9,-16.1],[3832.2,-13.7],[3832.5,-12.4],[3832.8,-10.8],[3833.2,-10.8],[3833.6,-8.2],[3834.0,-6.1],[3834.4,-5.5],[3834.9,-5.4],[3835.4,-4.5],[3835.9,-3.9],[3836.3,-3.9],[3836.8,-4.1],[3837.2,-4.5],[3837.7,-5.9],[3838.1,-7.05],[3838.6,-7.5],[3839.1,-7.8],[3839.4,-10.2],[3839.9,-11.8],[3840.3,-13.1],[3840.7,-14.1],[3841.4,-15.5],[3842.0,-15.3],[3842.7,-15.9],[3843.1,-17.3],[3843.6,-16.9],[3844.0,-18.5],[3844.4,-18.1],[3844.9,-19.3],[3845.3,-21.2],[3845.8,-21.8],[3846.2,-20.2],[3846.6,-18.9],[3847.1,-21.6],[3847.5,-22.0],[3847.9,-20.2],[3848.4,-21.2],[3849.0,-19.3],[3849.4,-22.6],[3849.9,-20.8],[3850.4,-23.5],[3850.9,-21.2]]

// annotations: [label, x start, x end, y]
const topNotes = [['-1.63', 3768.2, 3794.3, -1.47], ['-19.97', 3768.8, 3786.5, -19.6]]
const botNotes = [['-2.67', 3746.3, 3789.0, -2.82], ['-16.54', 3745.1, 3785.5, -16.17]]

const topData = [topP1, topP2, topP3, topP4, topP5, topP6, topP7, topP8]
const botData = [botP1, botP2, botP3, botP4, botP5, botP6, botP7, botP8]

const font = '"Liberation Serif", "Times New Roman", serif'
const black = '#000000'

const makeXAxes = (gridIndex, min, max, ticks) => {
  const line = { lineStyle: { color: black, width: 2.5 } }
  const tick = { inside: true, length: 7, customValues: ticks, lineStyle: { color: black, width: 2 } }
  return [
    {
      type: 'value',
      gridIndex,
      position: 'bottom',
      min,
      max,
      axisLine: line,
      axisTick: tick,
      splitLine: { show: false },
      axisLabel: {
        customValues: ticks,
        formatter: (value) => String(value),
        margin: 9,
        color: black,
        fontSize: 18,
        fontWeight: 'bold',
        fontFamily: font
      },
      name: 'Wavelength(nm)',
      nameLocation: 'middle',
      nameGap: 25,
      nameTextStyle: { color: black, fontSize: 17, fontWeight: 'bold', fontFamily: font }
    },
    {
      type: 'value',
      gridIndex,
      position: 'top',
      min,
      max,
      axisLine: line,
      axisTick: tick,
      splitLine: { show: false },
      axisLabel: { show: false }
    }
  ]
}

const makeYAxes = (gridIndex, min) => {
  const line = { lineStyle: { color: black, width: 2.5 } }
  const tick = { inside: true, length: 7, lineStyle: { color: black, width: 2 } }
  return [
    {
      type: 'value',
      gridIndex,
      position: 'left',
      min,
      max: 0,
      interval: 5,
      axisLine: line,
      axisTick: tick,
      splitLine: { show: false },
      axisLabel: { margin: 5, color: black, fontSize: 18, fontWeight: 'bold', fontFamily: font },
      name: 'Normalized transmission(dB)',
      nameLocation: 'middle',
      nameGap: 34,
      nameTextStyle: { color: black, fontSize: 17, fontWeight: 'bold', fontFamily: font }
    },
    {
      type: 'value',
      gridIndex,
      position: 'right',
      min,
      max: 0,
      interval: 5,
      axisLine: line,
      axisTick: tick,
      splitLine: { show: false },
      axisLabel: { show: false }
    }
  ]
}

const makeSeries = (data, axisIndex) => {
  return data.map((points, i) => {
    return {
      name: names[i],
      type: 'line',
      xAxisIndex: axisIndex * 2,
      yAxisIndex: axisIndex * 2,
      data: points,
      showSymbol: false,
      symbol: 'none',
      clip: true,
      color: colors[i],
      lineStyle: {
        color: colors[i],
        width: 2.2,
        type: i === 7 ? [2, 2] : 'solid'
      },
      emphasis: { disabled: true }
    }
  })
}

const makeNotes = (notes, axisIndex) => {
  return {
    name: 'notes',
    type: 'line',
    xAxisIndex: axisIndex * 2,
    yAxisIndex: axisIndex * 2,
    data: [],
    z: 10,
    markLine: {
      silent: true,
      symbol: ['none', 'arrow'],
      symbolSize: 13,
      lineStyle: { color: black, width: 2, type: 'solid' },
      label: {
        show: true,
        position: 'start',
        distance: 0,
        color: black,
        fontSize: 18,
        fontWeight: 'bold',
        fontFamily: font,
        backgroundColor: '#d7b6f6',
        padding: [4, 5, 3, 5]
      },
      emphasis: { disabled: true },
      data: notes.map((n) => {
        return [
          { coord: [n[1], n[3]], label: { formatter: n[0] } },
          { coord: [n[2], n[3]] }
        ]
      })
    }
  }
}

const makeLegend = (top, left) => {
  return {
    data: names,
    top,
    left,
    width: 760,
    orient: 'horizontal',
    selectedMode: false,
    backgroundColor: '#ffffff',
    borderColor: black,
    borderWidth: 2.5,
    borderRadius: 0,
    padding: [5, 20, 5, 8],
    itemWidth: 41,
    itemHeight: 14,
    itemGap: 11,
    itemStyle: { opacity: 0 },
    textStyle: { color: black, fontSize: 17, fontWeight: 'bold', fontFamily: font }
  }
}

const myChart = echarts.init(document.getElementById('chart'), null, { renderer: 'canvas' })

const option = {
  animation: false,
  backgroundColor: '#ffffff',
  textStyle: { fontFamily: font },
  grid: [
    { left: 65.5, right: -3, top: 7, height: 424 },
    { left: 65.5, right: -3, top: 487.3, height: 423.5 }
  ],
  xAxis: [...makeXAxes(0, 3760, 3854.32, topXTicks), ...makeXAxes(1, 3735.0, 3851.15, botXTicks)],
  yAxis: [...makeYAxes(0, -30), ...makeYAxes(1, -25)],
  legend: [makeLegend(395, 335), makeLegend(493, 334)],
  series: [
    ...makeSeries(topData, 0),
    ...makeSeries(botData, 1),
    makeNotes(topNotes, 0),
    makeNotes(botNotes, 1)
  ]
}

myChart.setOption(option)
</script>
</body>
</html>
